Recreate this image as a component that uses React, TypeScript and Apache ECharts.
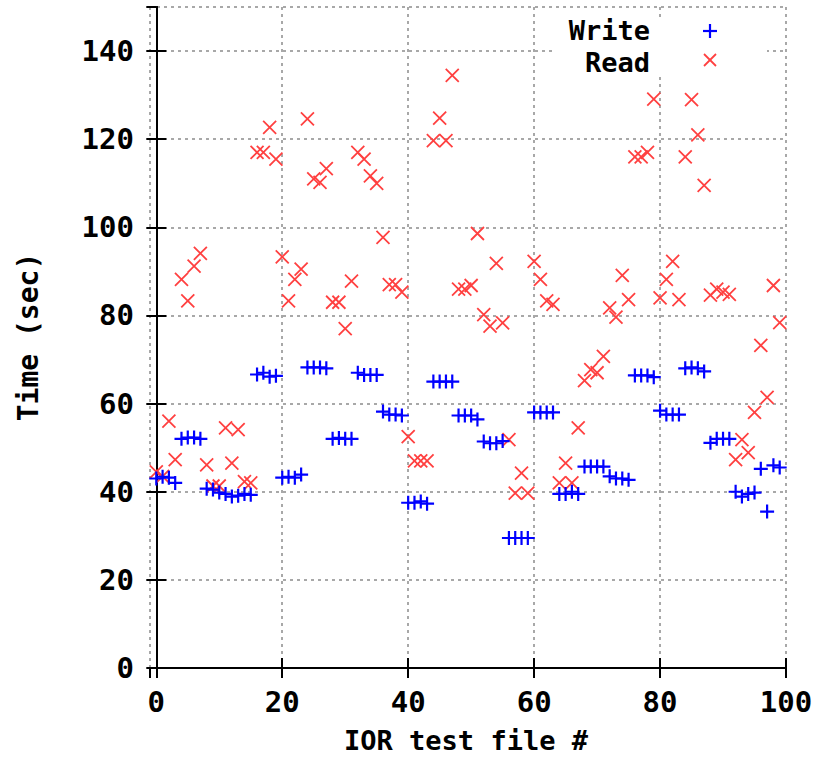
import React, { useEffect, useRef } from "react";
import * as echarts from "echarts";

const fileNumbers: number[] = Array.from({ length: 100 }, (_, i) => i);

const writeTimes: number[] = [
  43, 43.4, 43.2, 42,
  52, 52.3, 52.3, 52,
  40.7, 40.5, 39.8, 39.5,
  38.9, 39.1, 39.5, 39.3,
  66.6, 67, 66.1, 66.3,
  43.2, 43.4, 43.2, 43.9,
  68.2, 68.2, 68.2, 68,
  52, 52.2, 52, 52,
  67, 66.5, 66.5, 66.5,
  58.2, 57.5, 57.5, 57.3,
  37.5, 37.5, 37.8, 37.3,
  65, 65, 65, 65,
  57.3, 57.3, 57.3, 56.4,
  51.4, 51, 51, 51.5,
  29.5, 29.5, 29.5, 29.5,
  58, 58, 58, 58,
  39.5, 39.5, 40, 39.5,
  45.7, 45.7, 45.7, 45.7,
  43.5, 43, 43, 42.7,
  66.4, 66.4, 66.4, 66,
  58.4, 57.5, 57.5, 57.5,
  68, 68.2, 68, 67.3,
  51.1, 52, 52, 52,
  40, 38.9, 39.5, 39.8,
  45.2, 35.5, 46, 45.5,
];

const readTimes: number[] = [
  44.5, 43.5, 56, 47.3, 88.2, 83.3, 91.2, 94.1, 46.1, 41.3,
  41.3, 54.5, 46.5, 54.1, 42.3, 42, 117, 117, 122.7, 115.5,
  93.3, 83.3, 88.2, 90.5, 124.6, 111, 110.2, 113.3, 83, 83,
  77, 87.8, 117, 115.5, 111.7, 110, 97.7, 87, 87, 85.3,
  52.5, 47, 47, 47, 119.7, 124.8, 119.7, 134.5, 86, 86,
  86.8, 98.6, 80.2, 77.6, 91.8, 78.3, 51.8, 39.7, 44.2, 39.7,
  92.3, 88.2, 83.3, 82.5, 42, 46.5, 42, 54.5, 65.2, 67.7,
  67, 70.7, 81.7, 79.6, 89.1, 83.6, 116, 116, 117, 129.1,
  84, 88.2, 92.3, 83.6, 116, 129, 121, 109.5, 84.6, 86,
  85.3, 84.8, 47.3, 51.8, 48.9, 58, 73.2, 61.4, 86.8, 78.4,
];

const seriesNames = ["Write", "Read"];
const xTitle = "IOR test file #";
const yTitle = "Time (sec)";

const FONT = "'DejaVu Sans Mono', monospace";
const BLUE = "#0000ff";
const RED = "#ff4040";

const PLUS = "path://M0,7 L14,7 M7,0 L7,14";
const CROSS = "path://M0,0 L12,12 M0,12 L12,0";

export default function App() {
  const ref = useRef<HTMLDivElement>(null);
  useEffect(() => {
    document.body.style.margin = "0";
    if (!ref.current) return;
    const chart = echarts.init(ref.current, null, { renderer: "svg" });
    const gridLine = { show: true, lineStyle: { color: "#a8a8a8", type: [3, 4] as any, width: 2 } };
    const axisLine = { show: true, lineStyle: { color: "#000", width: 2 } };
    const tick = { show: true, inside: true, length: 10, lineStyle: { color: "#000", width: 2 } };
    const label = { color: "#000", fontFamily: FONT, fontSize: 29, fontWeight: "bold" as any, lineHeight: 24 };
    const textStyle = (text: string, align: string, size: number) => ({
      text, fontFamily: FONT, fontSize: size, fontWeight: "bold", lineHeight: 24,
      fill: "#000", align, verticalAlign: "middle",
    });
    chart.setOption({
      animation: false,
      backgroundColor: "#fff",
      grid: { left: 150, top: 7, width: 636, height: 661, containLabel: false },
      xAxis: [
        {
          type: "value", min: -1, max: 100, splitNumber: 5, position: "bottom",
          axisLine, axisTick: tick, splitLine: gridLine,
          axisLabel: { ...label, margin: 22, showMinLabel: false },
        },
        {
          type: "value", min: -1, max: 100, splitNumber: 5, position: "top",
          axisLine, axisTick: tick, splitLine: { show: false }, axisLabel: { show: false },
        },
      ],
      yAxis: [
        {
          type: "value", min: 0, max: 150, interval: 20, position: "left",
          axisLine, axisTick: tick, splitLine: gridLine,
          axisLabel: { ...label, margin: 16, showMaxLabel: false },
        },
        {
          type: "value", min: 0, max: 150, interval: 20, position: "right",
          axisLine, axisTick: tick, splitLine: { show: false }, axisLabel: { show: false },
        },
      ],
      series: [
        {
          name: seriesNames[0], type: "scatter", z: 3,
          data: fileNumbers.map((x, i) => [x, writeTimes[i]]),
          symbol: PLUS, symbolSize: 14, symbolKeepAspect: true,
          itemStyle: { color: "rgba(0,0,0,0)", borderColor: BLUE, borderWidth: 2.2, opacity: 1 },
        },
        {
          name: seriesNames[1], type: "scatter", z: 2,
          data: fileNumbers.map((x, i) => [x, readTimes[i]]),
          symbol: CROSS, symbolSize: 13, symbolKeepAspect: true,
          itemStyle: { color: "rgba(0,0,0,0)", borderColor: RED, borderWidth: 1.8, opacity: 1 },
        },
      ],
      graphic: [
        { type: "rect", z: 1, shape: { x: 555, y: 18, width: 212, height: 57 }, style: { fill: "#fff" } },
        { type: "text", z: 5, x: 650, y: 30, style: textStyle(seriesNames[0], "right", 27) },
        { type: "text", z: 5, x: 650, y: 62, style: textStyle(seriesNames[1], "right", 27) },
        { type: "line", z: 5, shape: { x1: 703, y1: 31, x2: 717, y2: 31 }, style: { stroke: BLUE, lineWidth: 2.2 } },
        { type: "line", z: 5, shape: { x1: 710, y1: 24, x2: 710, y2: 38 }, style: { stroke: BLUE, lineWidth: 2.2 } },
        { type: "line", z: 5, shape: { x1: 704, y1: 54, x2: 716, y2: 66 }, style: { stroke: RED, lineWidth: 1.8 } },
        { type: "line", z: 5, shape: { x1: 704, y1: 66, x2: 716, y2: 54 }, style: { stroke: RED, lineWidth: 1.8 } },
        { type: "text", x: 466, y: 740, style: textStyle(xTitle, "center", 27) },
        { type: "text", x: 28, y: 337, rotation: Math.PI / 2, style: textStyle(yTitle, "center", 28) },
      ],
    });
    return () => chart.dispose();
  }, []);
  return <div ref={ref} style={{ width: 823, height: 757 }} />;
}
